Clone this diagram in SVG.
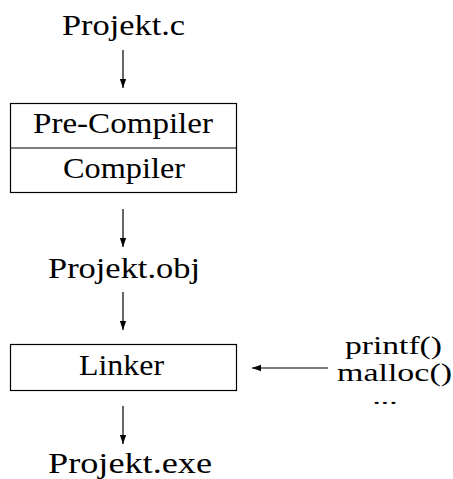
<svg xmlns="http://www.w3.org/2000/svg" width="453" height="479" viewBox="0 0 453 479">
  <style>
    text { font-family: "Liberation Serif", "DejaVu Serif", serif; font-size: 30px; fill: #000; }
    .c { text-anchor: middle; }
    .lib { font-size: 26px; }
    .dots { font-size: 18px; }
    .box { fill: #fff; stroke: #000; stroke-width: 1.2; }
    .conn { stroke: #000; stroke-width: 1.2; fill: none; marker-end: url(#head); }
  </style>
  <defs>
    <marker id="head" viewBox="0 0 10 10" refX="10" refY="5" markerWidth="9" markerHeight="9" markerUnits="userSpaceOnUse" orient="auto">
      <path d="M0,1.5 L10,5 L0,8.5 Z" fill="#000"/>
    </marker>
  </defs>

  <g id="connectors">
    <line class="conn" x1="123" y1="50" x2="123" y2="88"/>
    <line class="conn" x1="123" y1="209" x2="123" y2="247"/>
    <line class="conn" x1="123" y1="292" x2="123" y2="330"/>
    <line class="conn" x1="123" y1="406" x2="123" y2="444"/>
    <line class="conn" x1="328" y1="368" x2="252" y2="368"/>
  </g>

  <g id="projekt-c">
    <text class="c" x="123.5" y="35" textLength="123" lengthAdjust="spacingAndGlyphs">Projekt.c</text>
  </g>

  <g id="compiler">
    <rect class="box" x="10.5" y="103.5" width="226" height="89"/>
    <line x1="10.5" y1="148" x2="236.5" y2="148" stroke="#000" stroke-width="1.2"/>
    <text class="c" x="123" y="133" textLength="180" lengthAdjust="spacingAndGlyphs">Pre-Compiler</text>
    <text class="c" x="124" y="178" textLength="122" lengthAdjust="spacingAndGlyphs">Compiler</text>
  </g>

  <g id="projekt-obj">
    <text class="c" x="124" y="278" textLength="152" lengthAdjust="spacingAndGlyphs">Projekt.obj</text>
  </g>

  <g id="linker">
    <rect class="box" x="10.5" y="344.5" width="226" height="46"/>
    <text class="c" x="121.5" y="375" textLength="85" lengthAdjust="spacingAndGlyphs">Linker</text>
  </g>

  <g id="projekt-exe">
    <text class="c" x="130" y="473" textLength="164" lengthAdjust="spacingAndGlyphs">Projekt.exe</text>
  </g>

  <g id="libs">
    <text class="c lib" x="393.5" y="354" textLength="97" lengthAdjust="spacingAndGlyphs">printf()</text>
    <text class="c lib" x="394.5" y="381" textLength="115" lengthAdjust="spacingAndGlyphs">malloc()</text>
    <text class="c dots" x="385" y="404" textLength="25" lengthAdjust="spacingAndGlyphs">...</text>
  </g>
</svg>
